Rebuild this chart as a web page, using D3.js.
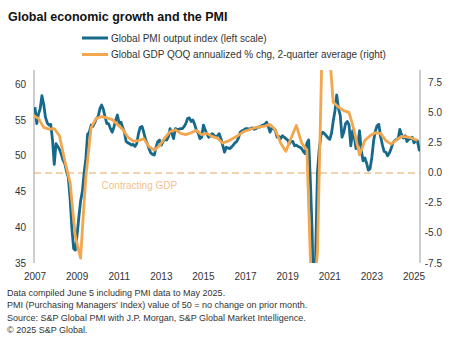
<!DOCTYPE html>
<html>
<head>
<meta charset="utf-8">
<script src="https://cdn.jsdelivr.net/npm/d3@7"></script>
<style>
  body { margin: 0; background: #fff; }
  svg { display: block; font-family: "Liberation Sans", Arial, sans-serif; }
</style>
</head>
<body>
<svg id="chart" width="468" height="344"></svg>
<script>
// monthly PMI output index, Jan 2007 .. May 2025
const pmiStart = [2007, 0];
const pmiValues = [
  56.8, 54.5, 55.8, 56.6, 58.4, 57.2, 55.4, 54.6, 54.3, 54.4, 52.2, 48.8,
  51.7, 51.3, 50.9, 50.2, 49.4, 48.9, 47.8, 47.0, 44.0, 40.0, 37.0, 36.8,
  39.0, 41.5, 43.6, 45.0, 47.5, 49.6, 53.0, 53.3, 54.3, 54.1, 54.6, 55.2,
  55.5, 56.6, 57.1, 56.5, 55.4, 54.5, 54.5, 53.8, 53.3, 54.0, 55.0, 55.7,
  54.5, 54.7, 54.0, 53.3, 52.0, 51.8, 51.7, 51.5, 51.6, 51.3, 51.7, 53.1,
  54.0, 54.1, 53.3, 52.3, 51.7, 51.0, 50.4, 50.2, 50.1, 51.2, 52.0, 52.2,
  51.5, 52.0, 52.4, 52.2, 52.6, 53.8, 53.1, 52.4, 53.8, 53.7, 53.7, 53.8,
  53.8, 54.1, 54.5, 55.2, 55.3, 54.8, 55.0, 54.4, 53.6, 53.2, 52.4, 52.6,
  54.3, 53.6, 53.1, 52.6, 52.8, 53.1, 52.9, 52.6, 52.8, 53.1, 52.4, 51.5,
  50.5, 51.2, 51.1, 51.0, 51.2, 51.5, 51.8, 52.0, 52.5, 53.3, 53.5, 53.6,
  53.8, 53.8, 53.7, 53.8, 53.9, 53.7, 53.8, 54.0, 54.0, 54.2, 54.3, 54.4,
  54.7, 54.0, 53.3, 53.9, 53.8, 53.6, 52.6, 52.7, 52.4, 52.8, 52.6, 52.4,
  52.2, 51.7, 52.0, 52.0, 51.4, 51.5, 51.3, 51.2, 51.0, 50.6, 50.3, 51.8,
  52.2, 46.1, 39.4, 26.2, 36.3, 47.7, 50.8, 52.9, 53.3, 53.1, 52.8, 52.5,
  52.3, 53.2, 54.8, 56.3, 58.5, 56.6, 55.7, 52.6, 53.3, 54.5, 54.8, 54.3,
  51.4, 53.5, 52.7, 51.0, 51.3, 53.5, 50.8, 49.3, 49.7, 49.0, 48.0, 48.2,
  49.8, 52.1, 53.4, 54.2, 54.4, 52.7, 51.6, 50.6, 50.5, 50.0, 50.4, 51.0,
  51.8, 52.1, 52.3, 52.4, 53.7, 52.9, 52.5, 52.8, 52.0, 52.3, 52.4, 52.6,
  51.8, 52.1, 52.1, 50.8, 51.2
];

// GDP QOQ annualized % chg, 2-quarter average, Q4 2006 .. Q1 2025 (quarter-end month)
const gdpStart = [2006, 11];
const gdpValues = [
  4.8,
  4.55, 3.8, 3.65, 3.7,
  3.1, 1.0, -0.8, -5.3,
  -7.1, -0.3, 3.8, 4.55,
  4.7, 4.6, 4.45, 4.05,
  3.65, 3.0, 2.65, 2.7,
  2.85, 2.2, 1.9, 2.3,
  2.9, 3.45, 3.6, 3.3,
  3.2, 3.35, 3.55, 3.2,
  3.3, 3.05, 2.9, 2.5,
  2.65, 2.9, 3.15, 3.45,
  3.6, 3.75, 3.85, 3.9,
  4.05, 3.6, 2.5, 1.8,
  2.9, 3.95, 2.5, 1.9,
  -11.7, -6.6, 13.0, 11.8,
  5.9, 5.5, 5.2, 5.05,
  3.5, 1.5, 2.7, 3.1,
  3.35, 3.3, 2.7, 2.4,
  2.75, 3.05, 3.0, 2.9,
  2.7
];

const xTickYears = [2007, 2009, 2011, 2013, 2015, 2017, 2019, 2021, 2023, 2025];
const leftTicks = [35, 40, 45, 50, 55, 60];
const rightTicks = [-7.5, -5.0, -2.5, 0.0, 2.5, 5.0, 7.5];

const legendLabels = [
  "Global PMI output index (left scale)",
  "Global GDP QOQ annualized % chg, 2-quarter average (right)"
];
const notes = [
  "Data compiled June 5 including PMI data to May 2025.",
  "PMI (Purchasing Managers' Index) value of 50 = no change on prior month.",
  "Source: S&P Global PMI with J.P. Morgan, S&P Global Market Intelligence.",
  "\u00a9 2025 S&P Global."
];

const blue = "#16698a";
const orange = "#f2a64e";
const grey = "#9a9a9a";
const textCol = "#333";

const pmi = pmiValues.map((v, i) => ({ date: new Date(pmiStart[0], pmiStart[1] + i, 1), v }));
const gdp = gdpValues.map((v, i) => ({ date: new Date(gdpStart[0], gdpStart[1] + i * 3, 1), v }));

const plotLeft = 34, plotRight = 420, plotTop = 70, plotBottom = 263;

const x = d3.scaleTime()
  .domain([new Date(2007, 0, 1), new Date(2025, 0, 1)])
  .range([35, 414]);
const yLeft = d3.scaleLinear().domain([35, 62]).range([plotBottom, plotTop]);
const yRight = d3.scaleLinear().domain([-7.5, 8.58]).range([plotBottom, plotTop]);

const svg = d3.select("#chart");

svg.append("text")
  .attr("x", 8).attr("y", 21)
  .style("font-size", "12.5px").style("font-weight", "bold").style("fill", "#111")
  .text("Global economic growth and the PMI");

// legend
const legend = svg.append("g").selectAll("g")
  .data(legendLabels).enter().append("g")
  .attr("transform", (d, i) => `translate(82,${38 + i * 16.5})`);
legend.append("line")
  .attr("x1", 0).attr("x2", 26)
  .attr("stroke", (d, i) => i === 0 ? blue : orange)
  .attr("stroke-width", 3);
legend.append("text")
  .attr("x", 29).attr("dy", "0.35em")
  .style("font-size", "10px").style("fill", textCol)
  .text(d => d);

svg.append("defs").append("clipPath").attr("id", "plot")
  .append("rect")
  .attr("x", plotLeft).attr("y", plotTop)
  .attr("width", plotRight - plotLeft).attr("height", plotBottom - plotTop);

// zero growth line
svg.append("line")
  .attr("x1", plotLeft).attr("x2", plotRight)
  .attr("y1", yRight(0)).attr("y2", yRight(0))
  .attr("stroke", "#f2c495").attr("stroke-width", 1.5)
  .attr("stroke-dasharray", "7,4");
svg.append("text")
  .attr("x", x(new Date(2010, 2, 1))).attr("y", yRight(0) + 16)
  .style("font-size", "10px").style("fill", "#f5bf86")
  .text("Contracting GDP");

// axis lines
[plotLeft, plotRight].forEach(px => {
  svg.append("line")
    .attr("x1", px).attr("x2", px).attr("y1", plotTop).attr("y2", plotBottom)
    .attr("stroke", grey).attr("stroke-width", 1);
});

svg.append("g").selectAll("text")
  .data(leftTicks).enter().append("text")
  .attr("x", 26).attr("y", d => yLeft(d)).attr("dy", "0.35em")
  .attr("text-anchor", "end")
  .style("font-size", "10px").style("fill", textCol)
  .text(d => d);

svg.append("g").selectAll("text")
  .data(rightTicks).enter().append("text")
  .attr("x", 442).attr("y", d => yRight(d)).attr("dy", "0.35em")
  .attr("text-anchor", "end")
  .style("font-size", "10px").style("fill", textCol)
  .text(d => d.toFixed(1));

svg.append("g").selectAll("text")
  .data(xTickYears).enter().append("text")
  .attr("x", d => x(new Date(d, 0, 1))).attr("y", 280)
  .attr("text-anchor", "middle")
  .style("font-size", "10px").style("fill", textCol)
  .text(d => d);

const lines = svg.append("g").attr("clip-path", "url(#plot)");

lines.append("path")
  .datum(pmi)
  .attr("fill", "none")
  .attr("stroke", blue)
  .attr("stroke-width", 2.8)
  .attr("stroke-linejoin", "round")
  .attr("d", d3.line().x(d => x(d.date)).y(d => yLeft(d.v)));

lines.append("path")
  .datum(gdp)
  .attr("fill", "none")
  .attr("stroke", orange)
  .attr("stroke-width", 2.8)
  .attr("stroke-linejoin", "round")
  .attr("d", d3.line().x(d => x(d.date)).y(d => yRight(d.v)));

svg.append("g").selectAll("text")
  .data(notes).enter().append("text")
  .attr("x", 7).attr("y", (d, i) => 296 + i * 12.4)
  .style("font-size", "9px").style("fill", textCol)
  .text(d => d);
</script>
</body>
</html>
